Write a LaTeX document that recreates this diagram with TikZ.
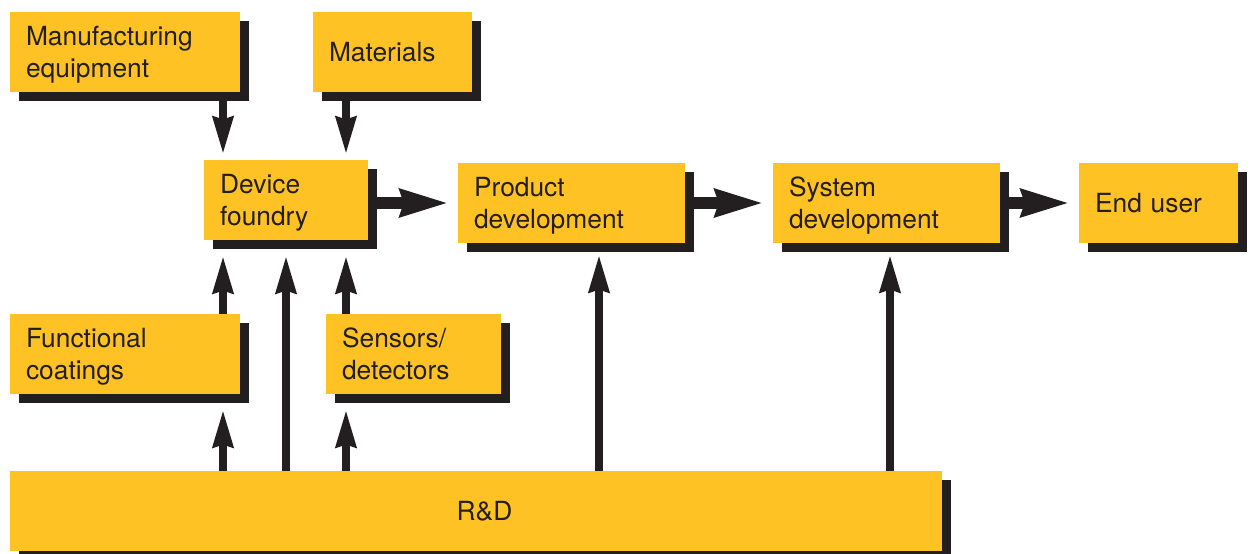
\documentclass[tikz,border=0pt]{standalone}
\usepackage{fontspec}
\setmainfont{TeX Gyre Heros}
\usetikzlibrary{arrows.meta,shadows}
\definecolor{boxyellow}{RGB}{254,194,36}
\definecolor{ink}{RGB}{35,31,32}

\begin{document}
\begin{tikzpicture}[x=0.02cm,y=-0.02cm,
    box/.style={fill=boxyellow, text=ink, text width=#1, align=left,
        minimum height=1.6cm, inner xsep=0.32cm, inner ysep=0pt, outer sep=0pt,
        font=\fontsize{15}{17.8}\selectfont, text height=10.8pt, text depth=0pt,
        drop shadow={shadow xshift=0.18cm, shadow yshift=-0.18cm, fill=ink, opacity=1}},
    twoline/.style={text depth=17.8pt},
    feed/.style={ink, line width=0.15cm, -{Stealth[length=0.74cm,width=0.40cm,inset=0.05cm]}},
    flow/.style={ink, line width=0.23cm, -{Stealth[length=0.96cm,width=0.52cm,inset=0.06cm]}, shorten >=0.18cm}]
    \useasboundingbox (0,0) rectangle (1250,554);

    % suppliers
    \node[box=3.96cm, twoline] (equip) at (125,52) {Manufacturing\\equipment};
    \node[box=2.54cm] (mats) at (392.5,52) {Materials};

    % main chain
    \node[box=2.64cm, twoline] (foundry) at (286,200) {Device\\foundry};
    \node[box=3.90cm, twoline] (product) at (571.5,203) {Product\\development};
    \node[box=3.90cm, twoline] (system) at (886.5,203) {System\\development};
    \node[box=2.54cm] (enduser) at (1158.5,203) {End user};

    % enabling technologies
    \node[box=3.96cm, twoline] (coat) at (125,354) {Functional\\coatings};
    \node[box=2.86cm, twoline] (sensor) at (413.5,354) {Sensors/\\detectors};
    \node[box=18.0cm, align=center] (rd) at (476,511) {\hspace*{0.34cm}R\&D};

    % columns of the vertical feeds
    \coordinate (fl) at ([xshift=0.38cm]foundry.south west);
    \coordinate (fr) at ([xshift=-0.44cm]foundry.south east);
    \coordinate (pin) at ([xshift=0.55cm]product.south);
    \coordinate (sin) at ([xshift=0.07cm]system.south);

    \draw[feed, shorten >=0.12cm] (equip.south -| fl) -- (foundry.north -| fl);
    \draw[feed, shorten >=0.12cm] (mats.south -| fr) -- (foundry.north -| fr);
    \draw[feed, shorten >=0.32cm] (coat.north -| fl) -- (fl);
    \draw[feed, shorten >=0.32cm] (sensor.north -| fr) -- (fr);
    \draw[feed, shorten >=0.32cm] (rd.north -| foundry.south) -- (foundry.south);
    \draw[feed, shorten >=0.32cm] (rd.north -| fl) -- (coat.south -| fl);
    \draw[feed, shorten >=0.32cm] (rd.north -| fr) -- (sensor.south -| fr);
    \draw[feed, shorten >=0.24cm] (rd.north -| pin) -- (pin);
    \draw[feed, shorten >=0.24cm] (rd.north -| sin) -- (sin);

    \draw[flow] (foundry.east |- product.west) -- (product.west);
    \draw[flow] (product.east) -- (system.west);
    \draw[flow] (system.east) -- (enduser.west);
\end{tikzpicture}
\end{document}
